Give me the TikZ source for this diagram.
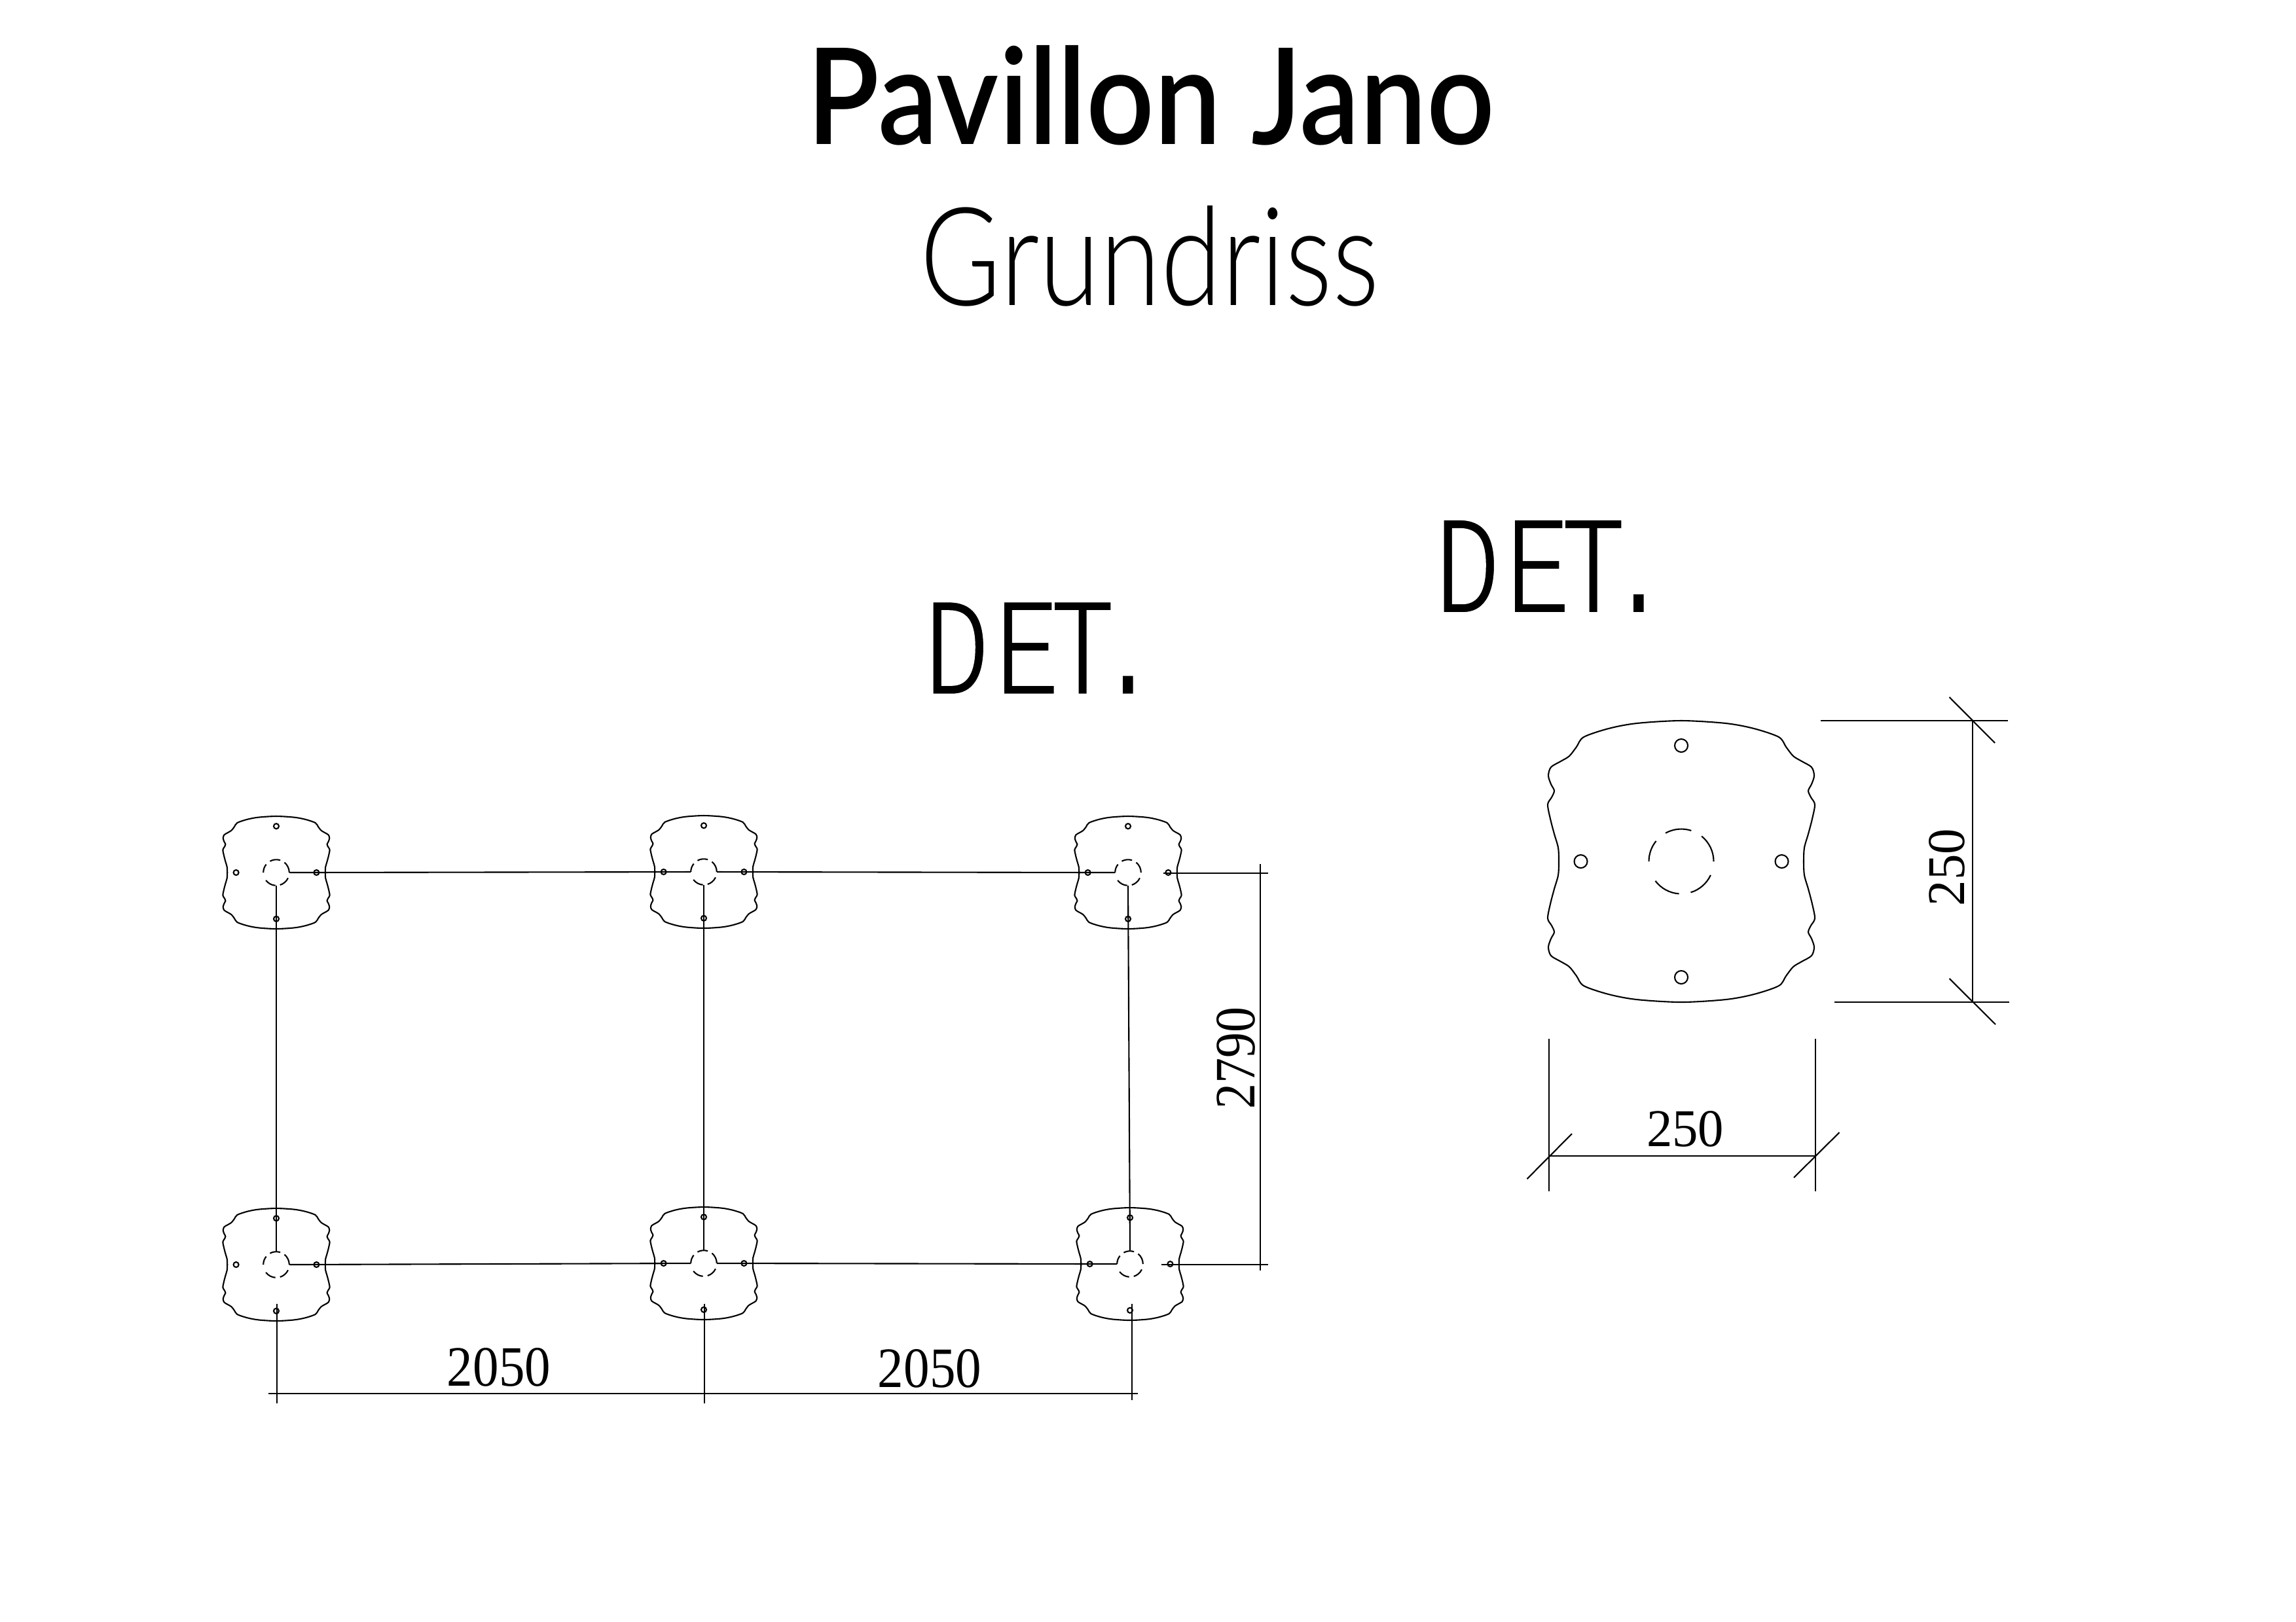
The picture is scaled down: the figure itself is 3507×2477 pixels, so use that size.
\documentclass[tikz,border=0pt]{standalone}
\usepackage{fontspec}
\setmainfont{Liberation Serif}
\newfontfamily\titlefont{Lato}[UprightFont=* Semibold]
\newfontfamily\subfont{Lato}[UprightFont=* Light]
\newfontfamily\detfont{Liberation Mono}
\newcommand{\detword}{{\detfont\special{pdf:code q 2 Tr 1 1 1 RG 0.22 w}D\kern.035em E\kern-.106em T\kern-.194em .\special{pdf:code Q}}}
\tikzset{
  drawline/.style={line width=0.6pt,black,line cap=butt},
  outline/.style={line width=0.6pt,black},
  hub/.style={circle,inner sep=0pt,minimum size=0.40cm,outer sep=0pt},
  lbl/.style={inner sep=0pt,outer sep=0pt,black},
  plate/.pic={
    \draw[outline] plot[smooth cycle,tension=0.5] coordinates {
      (0,-215) (68,-211) (111,-203) (149,-190) (160,-175) (171,-161) (184,-153) (199,-144) (203,-131) (199,-118) (194,-108) (198,-98) (204,-87) (200,-65) (194,-42) (188,-21) (187,0) (188,21) (194,42) (200,65) (204,87) (198,98) (194,108) (199,118) (203,131) (199,144) (184,153) (171,161) (160,175) (149,190) (111,203) (68,211)
      (0,215) (-68,211) (-111,203) (-149,190) (-160,175) (-171,161) (-184,153) (-199,144) (-203,131) (-199,118) (-194,108) (-198,98) (-204,87) (-200,65) (-194,42) (-188,21) (-187,0) (-188,-21) (-194,-42) (-200,-65) (-204,-87) (-198,-98) (-194,-108) (-199,-118) (-203,-131) (-199,-144) (-184,-153) (-171,-161) (-160,-175) (-149,-190) (-111,-203) (-68,-211)};
    \foreach \hx/\hy in {0/-177,0/177,-153.5/0,153.5/0}
      \draw[outline] (\hx,\hy) circle (10);
    \foreach \sa/\ea in {-72/-119,0/-51,25/73,94/143,-141/-180}
      \draw[outline] (\sa:49.5) arc[start angle=\sa,end angle=\ea,radius=49.5];
  }
}
\begin{document}
\begin{tikzpicture}[x=0.01cm,y=-0.01cm]
\useasboundingbox (0,0) rectangle (3507,2477);

% titles
\node[lbl] (title) at (1757.5,145.5) {\resizebox{10.49cm}{1.51cm}{\titlefont Pavillon Jano}};
\node[lbl] (subtitle) at (1756,391) {\resizebox{7.00cm}{1.52cm}{\subfont Grundriss}};
\node[lbl] (detA) at (1592,990) {\resizebox{3.63cm}{1.44cm}{\detword}};
\node[lbl] (detB) at (2372,865) {\resizebox{3.63cm}{1.45cm}{\detword}};

% plates in plan
\foreach \n/\px/\py in {a1/422/1333,a2/1075/1332,a3/1723/1333,b1/422/1932,b2/1075/1930,b3/1726/1931}{
  \pic[scale=0.4] at (\px,\py) {plate};
  \node[hub] (\n) at (\px,\py) {};
}

% beams
\draw[drawline] (a1.east) -- (a2.west);
\draw[drawline] (a2.east) -- (a3.west);
\draw[drawline] (b1.east) -- (b2.west);
\draw[drawline] (b2.east) -- (b3.west);
\draw[drawline] (a1.south) -- (b1.north);
\draw[drawline] (a2.south) -- (b2.north);
\draw[drawline] (a3.south) -- (b3.north);

% plan dimensions
\coordinate (ra1) at (1777,1334);
\coordinate (ra2) at (1937,1334);
\coordinate (rb1) at (1774,1932);
\coordinate (rb2) at (1937,1932);
\coordinate (rv1) at (1925,1320);
\coordinate (rv2) at (1925,1941);
\draw[drawline] (ra1) -- (ra2);
\draw[drawline] (rb1) -- (rb2);
\draw[drawline] (rv1) -- (rv2);
\coordinate (e1a) at (423,1992);
\coordinate (e1b) at (423,2144);
\coordinate (e2a) at (1076,1992);
\coordinate (e2b) at (1076,2144);
\coordinate (e3a) at (1729,1992);
\coordinate (e3b) at (1729,2139);
\coordinate (d1) at (410,2129);
\coordinate (d2) at (1738,2129);
\draw[drawline] (e1a) -- (e1b);
\draw[drawline] (e2a) -- (e2b);
\draw[drawline] (e3a) -- (e3b);
\draw[drawline] (d1) -- (d2);
\node[lbl] (dimA) at (762,2089) {\resizebox{1.58cm}{0.58cm}{2050}};
\node[lbl] (dimB) at (1420,2091) {\resizebox{1.58cm}{0.58cm}{2050}};
\node[lbl,rotate=90] (dimC) at (1888,1616) {\resizebox{1.56cm}{0.58cm}{2790}};

% detail plate
\pic at (2568,1316) {plate};
\coordinate (h1a) at (2781,1101);
\coordinate (h1b) at (3067,1101);
\coordinate (h2a) at (2802,1531);
\coordinate (h2b) at (3069,1531);
\coordinate (vd1) at (3013,1101);
\coordinate (vd2) at (3013,1531);
\coordinate (t1a) at (2977.5,1065);
\coordinate (t1b) at (3047,1135);
\coordinate (t2a) at (2977.5,1495);
\coordinate (t2b) at (3048,1565);
\draw[drawline] (h1a) -- (h1b);
\draw[drawline] (h2a) -- (h2b);
\draw[drawline] (vd1) -- (vd2);
\draw[drawline] (t1a) -- (t1b);
\draw[drawline] (t2a) -- (t2b);
\coordinate (v1a) at (2366,1587);
\coordinate (v1b) at (2366,1820);
\coordinate (v2a) at (2773,1587);
\coordinate (v2b) at (2773,1820);
\coordinate (hd1) at (2366,1766);
\coordinate (hd2) at (2773,1766);
\coordinate (t3a) at (2332.5,1801);
\coordinate (t3b) at (2401,1732);
\coordinate (t4a) at (2740,1799);
\coordinate (t4b) at (2809.5,1730);
\draw[drawline] (v1a) -- (v1b);
\draw[drawline] (v2a) -- (v2b);
\draw[drawline] (hd1) -- (hd2);
\draw[drawline] (t3a) -- (t3b);
\draw[drawline] (t4a) -- (t4b);
\node[lbl] (dimD) at (2574,1725) {\resizebox{1.18cm}{0.54cm}{250}};
\node[lbl,rotate=90] (dimE) at (2974,1325) {\resizebox{1.18cm}{0.54cm}{250}};
\end{tikzpicture}
\end{document}
